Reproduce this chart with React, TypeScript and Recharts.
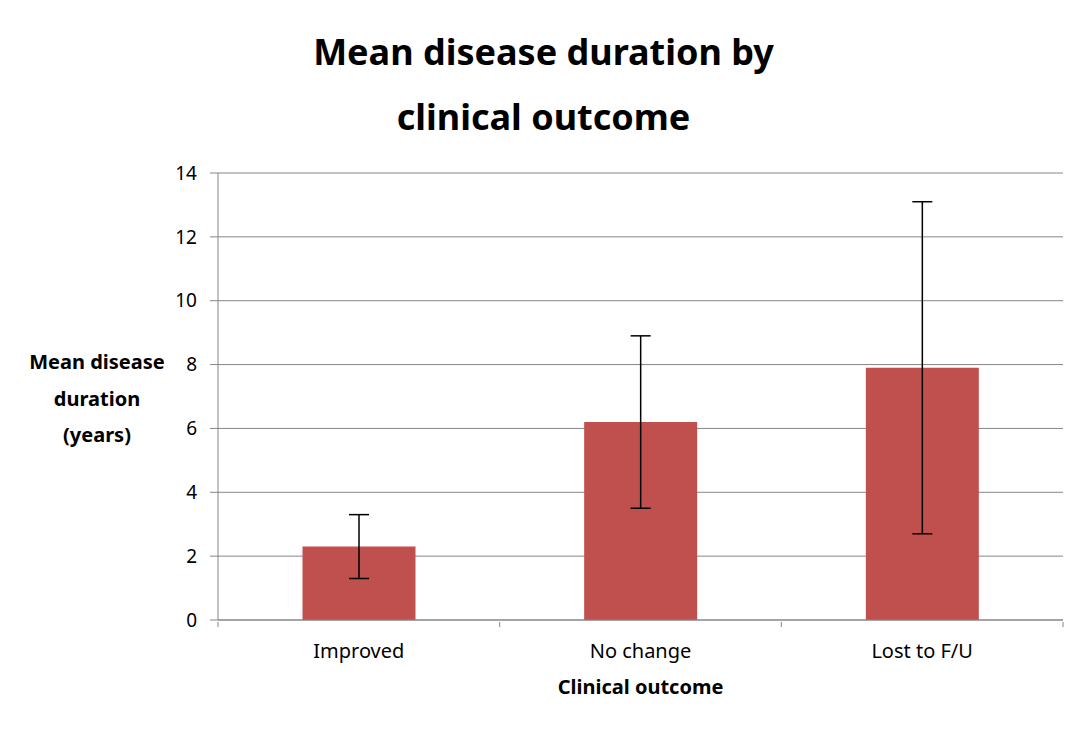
import React from "react";
import { BarChart, Bar, XAxis, YAxis, CartesianGrid, ErrorBar } from "recharts";

const categories = ["Improved", "No change", "Lost to F/U"];
const meanDuration = [2.3, 6.2, 7.9];
const errorAmount = [1.0, 2.7, 5.2];
const yTicks = [0, 2, 4, 6, 8, 10, 12, 14];

const data = categories.map((c, i) => ({ name: c, value: meanDuration[i], err: errorAmount[i] }));

const FONT = "'Noto Sans', sans-serif";
const GRAY = "#868686";

const W = 1087;
const H = 730;
const Y_AXIS_W = 60;
const X_AXIS_H = 30;
const M = { top: 173, right: 24, bottom: 110 - X_AXIS_H, left: 218 - Y_AXIS_W };
const band = (W - 218 - M.right) / categories.length;

const XTick = (props: any) => {
  const { x, y, payload, index } = props;
  return (
    <g>
      <line x1={x - band / 2} y1={y} x2={x - band / 2} y2={y + 5} stroke={GRAY} />
      {index === categories.length - 1 && (
        <line x1={x + band / 2} y1={y} x2={x + band / 2} y2={y + 5} stroke={GRAY} />
      )}
      <text x={x} y={y + 36} textAnchor="middle" fontSize={20} fill="#000" fontFamily={FONT}>
        {payload.value}
      </text>
    </g>
  );
};

export default function App() {
  return (
    <div style={{ position: "absolute", left: 0, top: 0, width: W, height: H, background: "#fff", fontFamily: FONT }}>
      <BarChart width={W} height={H} data={data} margin={M} barCategoryGap="30%">
        <CartesianGrid vertical={false} stroke={GRAY} strokeWidth={1} />
        <XAxis
          dataKey="name"
          height={X_AXIS_H}
          axisLine={{ stroke: GRAY }}
          tickLine={false}
          tickSize={0}
          tick={<XTick />}
          interval={0}
        />
        <YAxis
          width={Y_AXIS_W}
          domain={[0, 14]}
          ticks={yTicks}
          axisLine={{ stroke: GRAY }}
          tickLine={{ stroke: GRAY }}
          tickSize={8}
          tickMargin={13}
          tick={{ fontSize: 19, fill: "#000", fontFamily: FONT }}
        />
        <Bar dataKey="value" fill="#C0504D" isAnimationActive={false}>
          <ErrorBar dataKey="err" width={10} stroke="#000" strokeWidth={1.5} direction="y" />
        </Bar>
      </BarChart>
      <div style={{ position: "absolute", left: 0, width: W, top: 19, textAlign: "center", fontSize: 36, fontWeight: "bold", lineHeight: "65px" }}>
        <div>Mean disease duration by</div>
        <div>clinical outcome</div>
      </div>
      <div style={{ position: "absolute", left: 0, width: 194, top: 344, textAlign: "center", fontSize: 20, fontWeight: "bold", lineHeight: "36.5px" }}>
        <div>Mean disease</div>
        <div>duration</div>
        <div>(years)</div>
      </div>
      <div style={{ position: "absolute", left: 218, width: 845, top: 673, textAlign: "center", fontSize: 20, fontWeight: "bold" }}>
        Clinical outcome
      </div>
    </div>
  );
}
